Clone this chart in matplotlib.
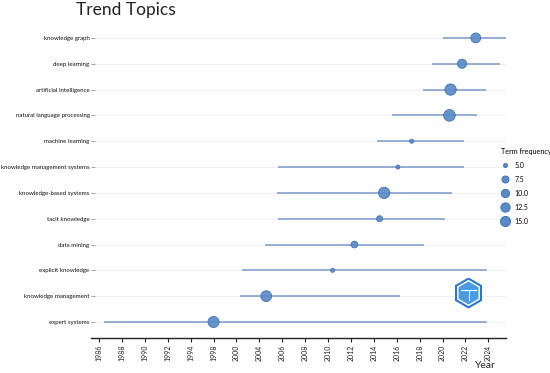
import numpy as np
import matplotlib
matplotlib.use('Agg')
import matplotlib.pyplot as plt
from matplotlib import font_manager
from matplotlib.patches import RegularPolygon
from matplotlib.lines import Line2D

# ---------------- data ----------------
terms = ["expert systems", "knowledge management", "explicit knowledge", "data mining",
         "tacit knowledge", "knowledge-based systems", "knowledge management systems",
         "machine learning", "natural language processing", "artificial intelligence",
         "deep learning", "knowledge graph"]
year_q1 = [1986.4, 2000.6, 2001.0, 2004.5, 2005.6, 2005.5, 2005.6, 2014.3, 2015.6, 2018.3, 2019.1, 2020.0]
year_med = [1998.0, 2004.6, 2010.4, 2012.3, 2014.5, 2014.9, 2016.1, 2017.3, 2020.6, 2020.7, 2021.7, 2022.9]
year_q3 = [2023.9, 2016.3, 2023.9, 2018.4, 2020.2, 2020.8, 2021.9, 2021.9, 2023.0, 2023.8, 2025.0, 2025.5]
term_freq = [18, 17, 5, 7, 6, 19, 5, 5, 20, 19, 12, 14]
tick_years = [1986, 1988, 1990, 1992, 1994, 1998, 2000, 2004, 2006, 2008, 2010,
              2012, 2014, 2016, 2018, 2020, 2022, 2024]
legend_freq = [5.0, 7.5, 10.0, 12.5, 15.0]

plt.rcParams['font.family'] = ['Lato', 'DejaVu Sans']

installed = {f.name for f in font_manager.fontManager.ttflist}
if 'Liberation Sans Narrow' in installed:
    label_family = ['Liberation Sans Narrow', 'DejaVu Sans']
    label_size = 5.4
else:
    label_family = ['Lato', 'DejaVu Sans']
    label_size = 4.4

# discrete-year axis: equally spaced labelled years
anchors = np.array([tick_years[0] - 2] + tick_years + [tick_years[-1] + 2], dtype=float)
idx = np.arange(len(anchors), dtype=float) - 1

def fwd(y):
    return np.interp(np.asarray(y, dtype=float), anchors, idx)

def inv(i):
    return np.interp(np.asarray(i, dtype=float), idx, anchors)

def msize(f):
    f = np.asarray(f, dtype=float)
    d_px = 4 + 7.6 * np.sqrt(np.clip((f - 5) / 15.0, 0, 1))
    return (d_px * 72 / 100.0) ** 2

W, H = 550, 373
fig = plt.figure(figsize=(W / 100, H / 100), dpi=100)
ax = fig.add_axes([91 / W, 1 - 338 / H, 415 / W, 313 / H])
ax.set_xscale('function', functions=(fwd, inv))

ypos = np.arange(len(terms))
line_c = '#7b98c8'
dot_c = '#5a8bc9'
edge_c = '#3e6db0'

ax.hlines(ypos, year_q1, year_q3, color=line_c, lw=1.1, zorder=2)
ax.scatter(year_med, ypos, s=msize(term_freq), color=dot_c, edgecolor=edge_c,
           linewidth=0.6, alpha=0.92, zorder=3)

ax.set_xlim(inv(-0.35), inv(17.77))
ax.set_ylim(-0.62, 11.5)
ax.set_xticks(tick_years)
ax.set_xticklabels([str(t) for t in tick_years], rotation=90, fontsize=5, color='#222222')
ax.minorticks_off()
ax.set_yticks(ypos)
ax.set_yticklabels(terms, fontsize=label_size, color='#111111', family=label_family)
ax.tick_params(axis='y', direction='in', length=3, width=0.5, color='#888888', pad=1)
ax.tick_params(axis='x', length=3, width=0.8, color='#222222', pad=2)
ax.yaxis.grid(True, color='#ededed', lw=0.6, zorder=0)
ax.xaxis.grid(False)
for s in ['top', 'right', 'left']:
    ax.spines[s].set_visible(False)
ax.spines['bottom'].set_color('#222222')
ax.spines['bottom'].set_linewidth(1.0)

fig.text(126 / W, 1 - 2.5 / H, 'Trend Topics', ha='center', va='top', fontsize=12.5, color='#222222')
fig.text(485 / W, 1 - 366 / H, 'Year', ha='center', va='center', fontsize=7.5, color='#222222')

handles = [Line2D([], [], ls='none', marker='o', markersize=np.sqrt(msize(f)),
                  markerfacecolor=dot_c, markeredgecolor=edge_c, markeredgewidth=0.6)
           for f in legend_freq]
leg = fig.legend(handles, [f'{f:.1f}' for f in legend_freq], title='Term frequency',
                 loc='upper left', bbox_to_anchor=(496 / W, 1 - 143 / H), frameon=False,
                 fontsize=5, title_fontsize=5.2, labelspacing=1.0, handletextpad=0.8,
                 handlelength=1.2, borderpad=0.2, alignment='left')

# watermark-like hexagon logo
lax = fig.add_axes([453 / W, 1 - 311 / H, 31 / W, 36 / H])
lax.set_xlim(-1.1, 1.1)
lax.set_ylim(-1.1, 1.1)
lax.set_aspect('equal')
lax.axis('off')
lax.add_patch(RegularPolygon((0, 0), 6, radius=1.05, orientation=0, color='#2a78cc'))
lax.add_patch(RegularPolygon((0, 0), 6, radius=0.88, orientation=0, color='white'))
lax.add_patch(RegularPolygon((0, 0), 6, radius=0.76, orientation=0, color='#4a9be0'))
lax.plot([-0.5, 0.5], [0.2, 0.2], color='white', lw=0.8)
lax.plot([0, 0], [0.2, -0.5], color='white', lw=0.8)

fig.savefig('out.png', dpi=100)
